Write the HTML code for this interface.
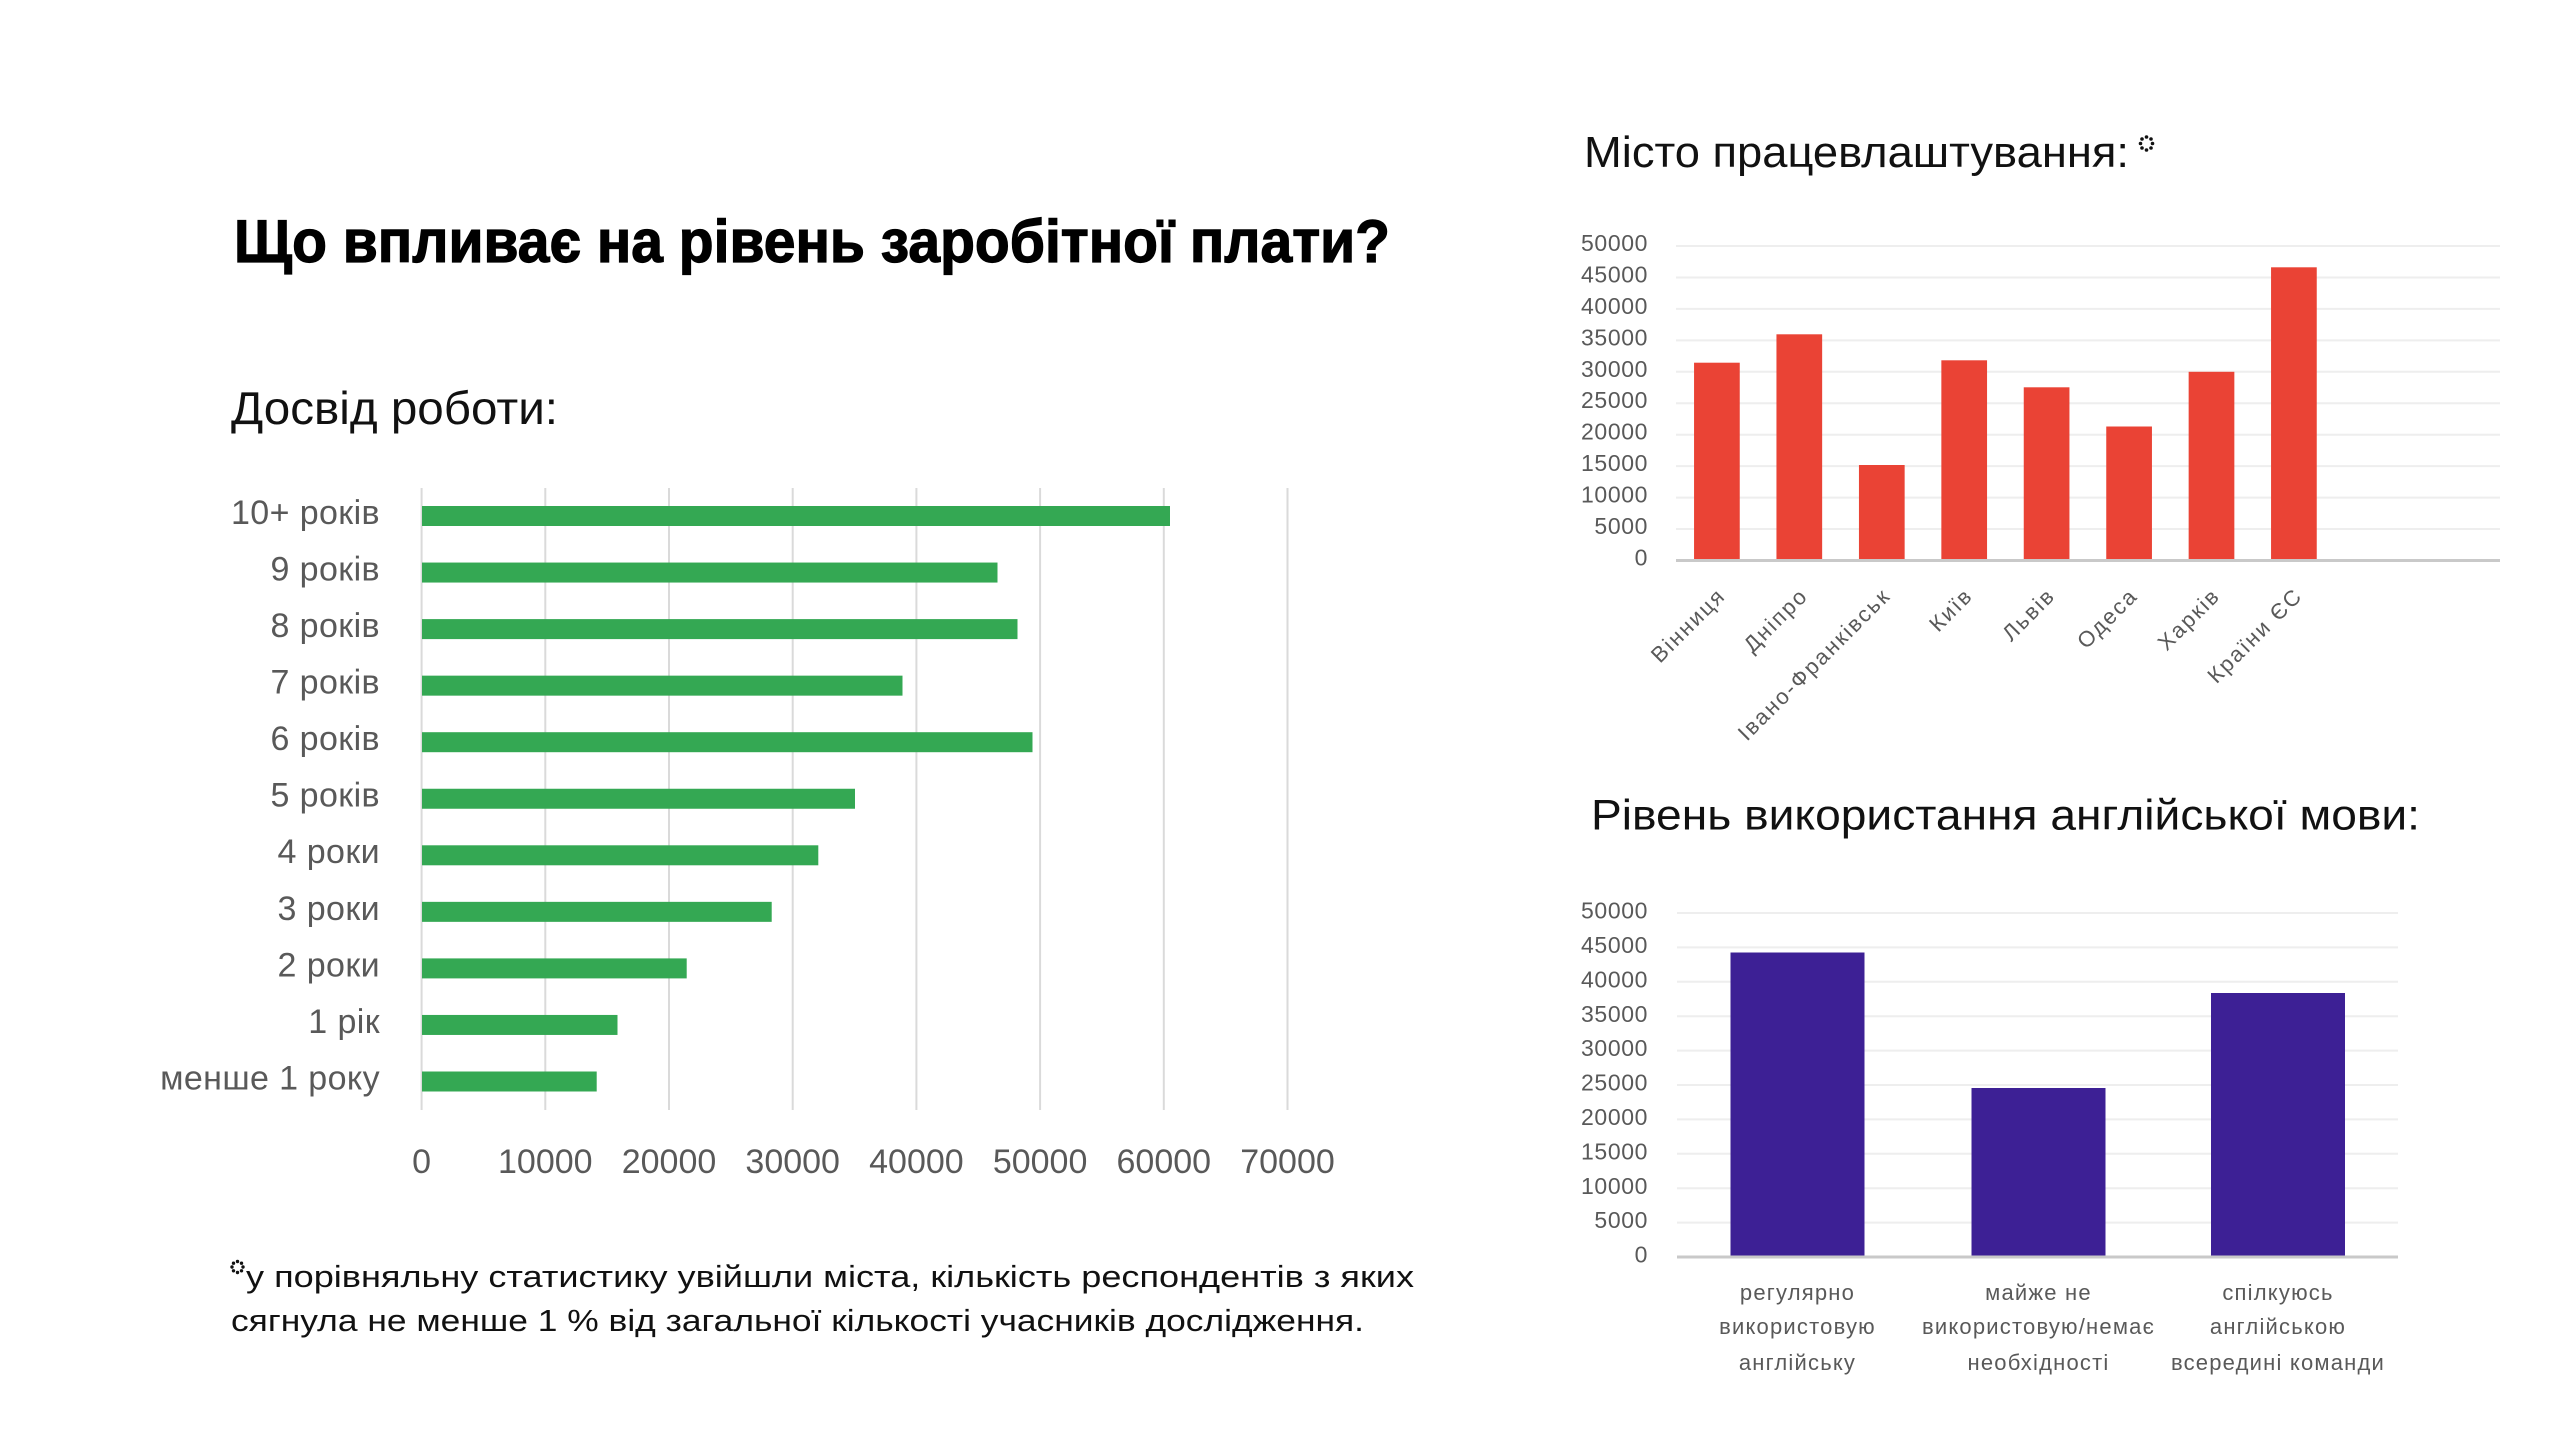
<!DOCTYPE html>
<html>
<head>
<meta charset="utf-8">
<style>
  html, body { margin: 0; padding: 0; background: #ffffff; }
  body { width: 2560px; height: 1440px; overflow: hidden; }
  svg { display: block; }
  text { font-family: "Liberation Sans", "DejaVu Sans", sans-serif; }
</style>
</head>
<body>
<svg width="2560" height="1440" viewBox="0 0 2560 1440" xmlns="http://www.w3.org/2000/svg">
  <rect x="0" y="0" width="2560" height="1440" fill="#ffffff"/>

  <!-- Main title -->
  <text x="234" y="262" font-size="60" font-weight="bold" fill="#000" stroke="#000" stroke-width="1.2" textLength="1156" lengthAdjust="spacingAndGlyphs">Що впливає на рівень заробітної плати?</text>

  <!-- Subtitle left -->
  <text x="231" y="424" font-size="46" fill="#111" textLength="327" lengthAdjust="spacingAndGlyphs">Досвід роботи:</text>

  <!-- LEFT CHART: gridlines -->
  <g stroke="#dadada" stroke-width="2">
    <line x1="421.6" y1="488" x2="421.6" y2="1110"/>
    <line x1="545.3" y1="488" x2="545.3" y2="1110"/>
    <line x1="669" y1="488" x2="669" y2="1110"/>
    <line x1="792.7" y1="488" x2="792.7" y2="1110"/>
    <line x1="916.4" y1="488" x2="916.4" y2="1110"/>
    <line x1="1040.1" y1="488" x2="1040.1" y2="1110"/>
    <line x1="1163.8" y1="488" x2="1163.8" y2="1110"/>
    <line x1="1287.5" y1="488" x2="1287.5" y2="1110"/>
  </g>

  <!-- LEFT CHART: bars -->
  <g fill="#34a853">
    <rect x="422" y="506" width="748" height="20"/>
    <rect x="422" y="562.55" width="575.5" height="20"/>
    <rect x="422" y="619.1" width="595.5" height="20"/>
    <rect x="422" y="675.65" width="480.5" height="20"/>
    <rect x="422" y="732.2" width="610.5" height="20"/>
    <rect x="422" y="788.75" width="433" height="20"/>
    <rect x="422" y="845.3" width="396.3" height="20"/>
    <rect x="422" y="901.85" width="349.7" height="20"/>
    <rect x="422" y="958.4" width="264.7" height="20"/>
    <rect x="422" y="1014.95" width="195.5" height="20"/>
    <rect x="422" y="1071.5" width="174.7" height="20"/>
  </g>

  <!-- LEFT CHART: category labels -->
  <g font-size="34" fill="#595959" text-anchor="end" letter-spacing="0.4">
    <text x="380" y="524">10+ років</text>
    <text x="380" y="580.5">9 років</text>
    <text x="380" y="637">8 років</text>
    <text x="380" y="693.5">7 років</text>
    <text x="380" y="750">6 років</text>
    <text x="380" y="806.5">5 років</text>
    <text x="380" y="863">4 роки</text>
    <text x="380" y="920">3 роки</text>
    <text x="380" y="976.5">2 роки</text>
    <text x="380" y="1033">1 рік</text>
    <text x="380" y="1089.5">менше 1 року</text>
  </g>

  <!-- LEFT CHART: value axis labels -->
  <g font-size="34" fill="#595959" text-anchor="middle">
    <text x="421.6" y="1173">0</text>
    <text x="545.3" y="1173">10000</text>
    <text x="669" y="1173">20000</text>
    <text x="792.7" y="1173">30000</text>
    <text x="916.4" y="1173">40000</text>
    <text x="1040.1" y="1173">50000</text>
    <text x="1163.8" y="1173">60000</text>
    <text x="1287.5" y="1173">70000</text>
  </g>

  <!-- Footnote -->
  <g fill="#111">
    <circle cx="237.5" cy="1261.5" r="1.7"/>
    <circle cx="241.5" cy="1263.2" r="1.7"/>
    <circle cx="243" cy="1267" r="1.7"/>
    <circle cx="241.5" cy="1270.8" r="1.7"/>
    <circle cx="237.5" cy="1272.5" r="1.7"/>
    <circle cx="233.5" cy="1270.8" r="1.7"/>
    <circle cx="232" cy="1267" r="1.7"/>
    <circle cx="233.5" cy="1263.2" r="1.7"/>
  </g>
  <text x="246" y="1287" font-size="31" fill="#111" textLength="1168" lengthAdjust="spacingAndGlyphs">у порівняльну статистику увійшли міста, кількість респондентів з яких</text>
  <text x="231" y="1331" font-size="31" fill="#111" textLength="1133" lengthAdjust="spacingAndGlyphs">сягнула не менше 1 % від загальної кількості учасників дослідження.</text>

  <!-- TOP RIGHT CHART -->
  <text x="1584" y="167" font-size="44" fill="#111" textLength="545" lengthAdjust="spacingAndGlyphs">Місто працевлаштування:</text>
  <g fill="#111">
    <circle cx="2146.5" cy="137" r="1.8"/>
    <circle cx="2151" cy="139" r="1.8"/>
    <circle cx="2152.5" cy="143.5" r="1.8"/>
    <circle cx="2151" cy="148" r="1.8"/>
    <circle cx="2146.5" cy="150" r="1.8"/>
    <circle cx="2142" cy="148" r="1.8"/>
    <circle cx="2140.5" cy="143.5" r="1.8"/>
    <circle cx="2142" cy="139" r="1.8"/>
  </g>

  <g stroke="#eeeeee" stroke-width="2">
    <line x1="1676" y1="246" x2="2500" y2="246"/>
    <line x1="1676" y1="277.45" x2="2500" y2="277.45"/>
    <line x1="1676" y1="308.9" x2="2500" y2="308.9"/>
    <line x1="1676" y1="340.35" x2="2500" y2="340.35"/>
    <line x1="1676" y1="371.8" x2="2500" y2="371.8"/>
    <line x1="1676" y1="403.25" x2="2500" y2="403.25"/>
    <line x1="1676" y1="434.7" x2="2500" y2="434.7"/>
    <line x1="1676" y1="466.15" x2="2500" y2="466.15"/>
    <line x1="1676" y1="497.6" x2="2500" y2="497.6"/>
    <line x1="1676" y1="529.05" x2="2500" y2="529.05"/>
  </g>

  <g fill="#ea4335">
    <rect x="1694.05" y="362.7" width="45.7" height="197.8"/>
    <rect x="1776.45" y="334.3" width="45.7" height="226.2"/>
    <rect x="1858.95" y="465" width="45.7" height="95.5"/>
    <rect x="1941.35" y="360.3" width="45.7" height="200.2"/>
    <rect x="2023.75" y="387.3" width="45.7" height="173.2"/>
    <rect x="2106.25" y="426.5" width="45.7" height="134"/>
    <rect x="2188.65" y="371.8" width="45.7" height="188.7"/>
    <rect x="2271.05" y="267.3" width="45.7" height="293.2"/>
  </g>
  <line x1="1676" y1="560.5" x2="2500" y2="560.5" stroke="#c9c9c9" stroke-width="3"/>

  <g font-size="23" fill="#595959" text-anchor="end" letter-spacing="0.6">
    <text x="1648" y="251">50000</text>
    <text x="1648" y="282.5">45000</text>
    <text x="1648" y="314">40000</text>
    <text x="1648" y="345.5">35000</text>
    <text x="1648" y="377">30000</text>
    <text x="1648" y="408">25000</text>
    <text x="1648" y="439.5">20000</text>
    <text x="1648" y="471">15000</text>
    <text x="1648" y="502.5">10000</text>
    <text x="1648" y="534">5000</text>
    <text x="1648" y="565.5">0</text>
  </g>

  <g font-size="22" fill="#595959" text-anchor="end" letter-spacing="2">
    <text transform="translate(1726.9,597) rotate(-45)">Вінниця</text>
    <text transform="translate(1809.3,597) rotate(-45)">Дніпро</text>
    <text transform="translate(1891.8,597) rotate(-45)">Івано-Франківськ</text>
    <text transform="translate(1974.2,597) rotate(-45)">Київ</text>
    <text transform="translate(2056.6,597) rotate(-45)">Львів</text>
    <text transform="translate(2139.1,597) rotate(-45)">Одеса</text>
    <text transform="translate(2221.5,597) rotate(-45)">Харків</text>
    <text transform="translate(2303.9,597) rotate(-45)">Країни ЄС</text>
  </g>

  <!-- BOTTOM RIGHT CHART -->
  <text x="1591" y="829.5" font-size="43" fill="#111" textLength="829" lengthAdjust="spacingAndGlyphs">Рівень використання англійської мови:</text>

  <g stroke="#eeeeee" stroke-width="2">
    <line x1="1677" y1="913" x2="2398" y2="913"/>
    <line x1="1677" y1="947.4" x2="2398" y2="947.4"/>
    <line x1="1677" y1="981.8" x2="2398" y2="981.8"/>
    <line x1="1677" y1="1016.2" x2="2398" y2="1016.2"/>
    <line x1="1677" y1="1050.6" x2="2398" y2="1050.6"/>
    <line x1="1677" y1="1085" x2="2398" y2="1085"/>
    <line x1="1677" y1="1119.4" x2="2398" y2="1119.4"/>
    <line x1="1677" y1="1153.8" x2="2398" y2="1153.8"/>
    <line x1="1677" y1="1188.2" x2="2398" y2="1188.2"/>
    <line x1="1677" y1="1222.6" x2="2398" y2="1222.6"/>
  </g>

  <g fill="#3d2095">
    <rect x="1730.5" y="952.5" width="134" height="304.5"/>
    <rect x="1971.5" y="1088" width="134" height="169"/>
    <rect x="2211" y="993" width="134" height="264"/>
  </g>
  <line x1="1677" y1="1257" x2="2398" y2="1257" stroke="#c9c9c9" stroke-width="3"/>

  <g font-size="23" fill="#595959" text-anchor="end" letter-spacing="0.6">
    <text x="1648" y="918.5">50000</text>
    <text x="1648" y="953">45000</text>
    <text x="1648" y="987.5">40000</text>
    <text x="1648" y="1022">35000</text>
    <text x="1648" y="1056">30000</text>
    <text x="1648" y="1090.5">25000</text>
    <text x="1648" y="1125">20000</text>
    <text x="1648" y="1159.5">15000</text>
    <text x="1648" y="1194">10000</text>
    <text x="1648" y="1228">5000</text>
    <text x="1648" y="1262.5">0</text>
  </g>

  <g font-size="22" fill="#595959" text-anchor="middle" letter-spacing="1.2">
    <text x="1797.5" y="1300">регулярно</text>
    <text x="1797.5" y="1334">використовую</text>
    <text x="1797.5" y="1370">англійську</text>
    <text x="2038.5" y="1300">майже не</text>
    <text x="2038.5" y="1334">використовую/немає</text>
    <text x="2038.5" y="1370">необхідності</text>
    <text x="2278" y="1300">спілкуюсь</text>
    <text x="2278" y="1334">англійською</text>
    <text x="2278" y="1370">всередині команди</text>
  </g>
</svg>
</body>
</html>
